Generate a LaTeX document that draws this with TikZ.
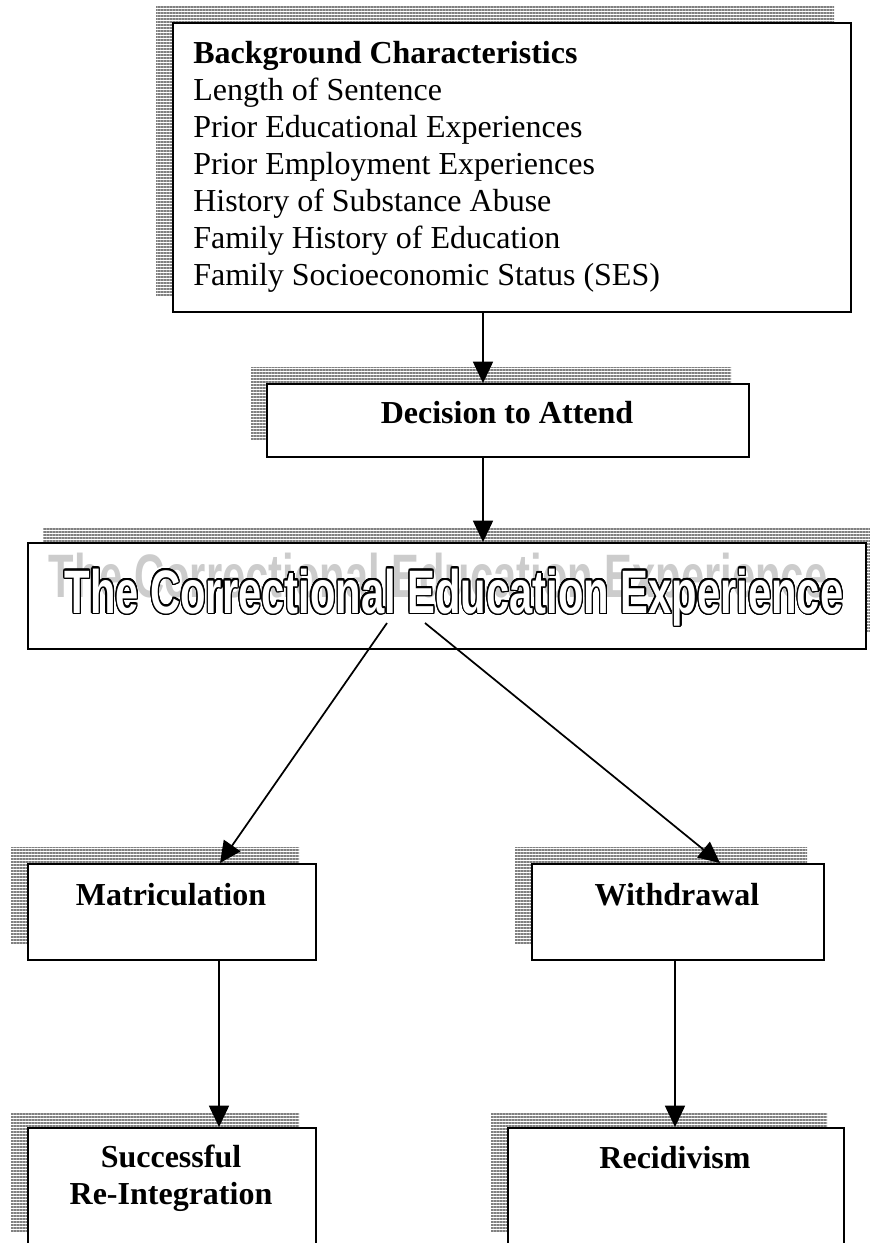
\documentclass[tikz,border=0pt]{standalone}
\usepackage{fontspec}
\setmainfont{Liberation Serif}
\newfontfamily\titlefont{Liberation Sans}
\usepackage{contour}
\contourlength{1.4pt}
\contournumber{24}
\usetikzlibrary{arrows.meta,patterns.meta}
\begin{document}
\begin{tikzpicture}[x=0.75pt,y=-0.75pt,
  box/.style={draw=black,line width=1.4pt,fill=white,rectangle,inner sep=0pt,anchor=north west},
  shade/.style={pattern={Lines[angle=0,distance=2.25pt,line width=0.8pt]},pattern color=gray},
  conn/.style={line width=1.3pt,-{Triangle[length=16pt,width=15pt]}},
  lbl/.style={font=\fontsize{24}{27.75}\selectfont\bfseries,inner sep=0pt}]
\useasboundingbox (0,0) rectangle (869,1243);
% shadows
\fill[shade] (156,6) rectangle (834,295);
\fill[shade] (251,367) rectangle (731,440);
\fill[shade] (43,527) rectangle (881,632);
\fill[shade] (11,847) rectangle (299,943);
\fill[shade] (515,847) rectangle (807,943);
\fill[shade] (11,1113) rectangle (299,1231);
\fill[shade] (491,1113) rectangle (827,1231);
% boxes
\node[box,minimum width=508.5pt,minimum height=216.75pt] (bg) at (172,22) {};
\node[box,minimum width=361.5pt,minimum height=54.75pt] (dec) at (266,383) {};
\node[box,minimum width=628.5pt,minimum height=79.5pt] (ce) at (27,542) {};
\node[box,minimum width=216pt,minimum height=72pt] (mat) at (27,863) {};
\node[box,minimum width=219pt,minimum height=72pt] (wd) at (531,863) {};
\node[box,minimum width=216pt,minimum height=90pt] (suc) at (27,1127) {};
\node[box,minimum width=252pt,minimum height=90pt] (rec) at (507,1127) {};
% texts
\node[anchor=north west,inner sep=0pt,align=left,font=\fontsize{24}{27.7}\selectfont] (bgt) at (193,41)
  {\textbf{Background Characteristics}\\Length of Sentence\\Prior Educational Experiences\\Prior Employment Experiences\\History of Substance Abuse\\Family History of Education\\Family Socioeconomic Status (SES)};
\node[lbl,anchor=base] (dect) at (507,423) {Decision to Attend};
\node[inner sep=0pt,anchor=base,text=gray!40] (ces) at (438,597)
  {\titlefont\fontsize{46}{50}\selectfont\bfseries\scalebox{0.68}[1]{The Correctional Education Experience}};
\node[inner sep=0pt,anchor=base,text=white] (cet) at (454,613)
  {\titlefont\fontsize{46}{50}\selectfont\bfseries\scalebox{0.68}[1]{\contour{black}{The Correctional Education Experience}}};
\node[lbl,anchor=base] (matt) at (171,905) {Matriculation};
\node[lbl,anchor=base] (wdt) at (677,905) {Withdrawal};
\node[lbl,anchor=north,align=center] (suct) at (171,1145) {Successful\\Re-Integration};
\node[lbl,anchor=base] (rect) at (675,1168) {Recidivism};
% connectors
\coordinate (xa) at (483,0);
\coordinate (s1) at (387,623);
\coordinate (s2) at (425,623);
\coordinate (xm) at (220,0);
\coordinate (xw) at (720,0);
\coordinate (xb) at (219,0);
\coordinate (xr) at (675,0);
\draw[conn] (bg.south -| xa) -- (dec.north -| xa);
\draw[conn] (dec.south -| xa) -- (ce.north -| xa);
\draw[conn] (s1) -- (mat.north -| xm);
\draw[conn] (s2) -- (wd.north -| xw);
\draw[conn] (mat.south -| xb) -- (suc.north -| xb);
\draw[conn] (wd.south -| xr) -- (rec.north -| xr);
\end{tikzpicture}
\end{document}
